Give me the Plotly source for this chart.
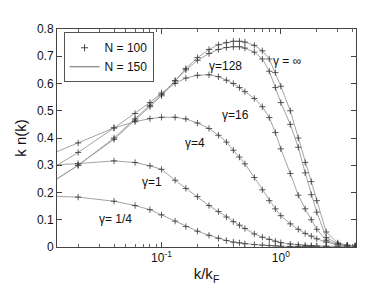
import math
import plotly.graph_objects as go

# k/kF positions (first point only on N=150 lines)
K = [0.0133, 0.02, 0.04, 0.06, 0.08, 0.1, 0.13, 0.16, 0.2, 0.25, 0.3, 0.35, 0.4, 0.45,
     0.5, 0.6, 0.7, 0.8, 0.9, 1.0, 1.2, 1.4, 1.6, 1.8, 2.0, 2.4, 3.0, 3.6, 4.2]

g_inf = [0.25, 0.30, 0.395, 0.465, 0.515, 0.555, 0.61, 0.655, 0.695, 0.725, 0.742, 0.75, 0.755, 0.755,
         0.752, 0.74, 0.72, 0.69, 0.64, 0.59, 0.50, 0.40, 0.31, 0.24, 0.17, 0.055, 0.015, 0.007, 0.004]
g_128 = [0.25, 0.30, 0.40, 0.47, 0.52, 0.56, 0.61, 0.65, 0.685, 0.71, 0.725, 0.732, 0.735, 0.735,
         0.73, 0.715, 0.69, 0.645, 0.585, 0.53, 0.45, 0.366, 0.272, 0.192, 0.128, 0.035, 0.012, 0.006, 0.004]
g_16 = [0.30, 0.347, 0.437, 0.49, 0.53, 0.565, 0.60, 0.62, 0.63, 0.632, 0.625, 0.612, 0.60, 0.585,
        0.57, 0.545, 0.515, 0.475, 0.42, 0.36, 0.27, 0.19, 0.14, 0.10, 0.065, 0.025, 0.008, 0.004, 0.002]
g_4 = [0.35, 0.382, 0.437, 0.46, 0.471, 0.476, 0.476, 0.47, 0.455, 0.435, 0.41, 0.385, 0.355, 0.33,
       0.305, 0.255, 0.21, 0.17, 0.14, 0.115, 0.085, 0.065, 0.05, 0.04, 0.03, 0.018, 0.008, 0.004, 0.002]
g_1 = [0.302, 0.306, 0.316, 0.31, 0.298, 0.285, 0.245, 0.215, 0.185, 0.152, 0.13, 0.11, 0.093, 0.08,
       0.068, 0.048, 0.036, 0.028, 0.021, 0.016, 0.011, 0.008, 0.006, 0.005, 0.004, 0.003, 0.002, 0.001, 0.001]
g_q = [0.186, 0.183, 0.168, 0.152, 0.137, 0.118, 0.095, 0.075, 0.058, 0.043, 0.032, 0.024, 0.018, 0.015,
       0.012, 0.009, 0.007, 0.005, 0.004, 0.003, 0.002, 0.0015, 0.001, 0.001, 0.001, 0.001, 0.0005, 0.0005, 0.0005]

curves = [g_inf, g_128, g_16, g_4, g_1, g_q]
labels = ["γ = ∞", "γ=128", "γ=16", "γ=4", "γ=1", "γ= 1/4"]
label_x = [1.12, 0.345, 0.419, 0.189, 0.084, 0.041]
label_y = [0.683, 0.664, 0.484, 0.382, 0.239, 0.103]

y_ticks = [0, 0.1, 0.2, 0.3, 0.4, 0.5, 0.6, 0.7, 0.8]
y_ticktext = ["0", "0.1", "0.2", "0.3", "0.4", "0.5", "0.6", "0.7", "0.8"]
x_ticks = [0.1, 1]
x_ticktext = ["10<sup>-1</sup>", "10<sup>0</sup>"]
x_minor = [0.02, 0.03, 0.04, 0.05, 0.06, 0.07, 0.08, 0.09, 0.2, 0.3, 0.4, 0.5, 0.6, 0.7, 0.8, 0.9, 2, 3, 4]

FONT = "Liberation Sans, Arial, sans-serif"
MK = dict(symbol="cross-thin-open", size=4.5, color="#333", line=dict(color="#333", width=0.8))

fig = go.Figure()
for ys in curves:
    fig.add_trace(go.Scatter(x=K, y=ys, mode="lines", line=dict(color="#999", width=0.9),
                             showlegend=False, hoverinfo="skip"))
    fig.add_trace(go.Scatter(x=K[1:], y=ys[1:], mode="markers", marker=MK,
                             showlegend=False, hoverinfo="skip"))

# legend entries
fig.add_trace(go.Scatter(x=[None], y=[None], mode="markers", name="N = 100",
                         marker=dict(symbol="cross-thin-open", size=5, color="#333",
                                     line=dict(color="#333", width=0.9))))
fig.add_trace(go.Scatter(x=[None], y=[None], mode="lines", name="N = 150",
                         line=dict(color="#666", width=1)))

for t, lx, ly in zip(labels, label_x, label_y):
    fig.add_annotation(x=math.log10(lx), y=ly, xref="x", yref="y", text=t, showarrow=False,
                       font=dict(family=FONT, size=12, color="#111"))

fig.update_xaxes(type="log", range=[-1.876, 0.63], tickvals=x_ticks, ticktext=x_ticktext,
                 ticks="inside", ticklen=5, tickcolor="#444", mirror="allticks", showline=True,
                 linecolor="#444", linewidth=1, showgrid=False, zeroline=False,
                 minor=dict(tickvals=x_minor, ticks="inside", ticklen=3, tickcolor="#666", showgrid=False),
                 tickfont=dict(family=FONT, size=12, color="#111"),
                 title=dict(text="k/k<sub>F</sub>", font=dict(family=FONT, size=15, color="#111"), standoff=4))
fig.update_yaxes(range=[0, 0.8], tickvals=y_ticks, ticktext=y_ticktext,
                 ticks="inside", ticklen=5, tickcolor="#444", mirror="allticks", showline=True,
                 linecolor="#444", linewidth=1, showgrid=False, zeroline=False,
                 tickfont=dict(family=FONT, size=12, color="#111"),
                 title=dict(text="k n(k)", font=dict(family=FONT, size=15, color="#111"), standoff=6))

fig.update_layout(width=382, height=286, margin=dict(l=49, r=34, t=21, b=47),
                  paper_bgcolor="white", plot_bgcolor="white",
                  legend=dict(x=0.022, y=0.985, xanchor="left", yanchor="top",
                              bordercolor="#555", borderwidth=1, bgcolor="white",
                              font=dict(family=FONT, size=12, color="#111"),
                              tracegroupgap=0, itemwidth=30))
fig.write_html("out.html")
